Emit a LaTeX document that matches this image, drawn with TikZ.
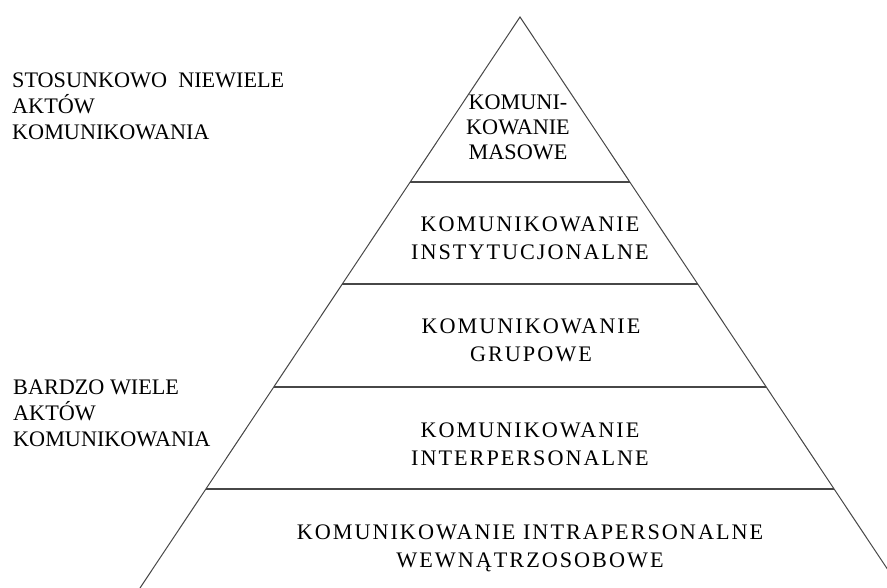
\documentclass[tikz,border=0pt]{standalone}
\usepackage{fontspec}
\setmainfont{Liberation Serif}
\newfontfamily\spacedserif[LetterSpace=9]{Liberation Serif}
\usetikzlibrary{calc}
\begin{document}
\begin{tikzpicture}[x=1pt,y=-1pt,
    side/.style={draw=black!72,line width=1pt},
    tier/.style={draw=black!72,line width=1.6pt},
    note/.style={inner sep=0pt,align=left,anchor=base west,
      font=\fontsize{22.2}{26}\selectfont},
    layer/.style={inner sep=0pt,align=center,anchor=base,
      font=\spacedserif\fontsize{22.2}{28}\selectfont},
    peak/.style={inner sep=0pt,align=center,anchor=base,
      font=\fontsize{22.2}{25}\selectfont}]
  \useasboundingbox (0,0) rectangle (887,588);
  \clip (0,0) rectangle (887,588);
  \fill[white] (0,0) rectangle (887,588);

  % pyramid outline
  \coordinate (apex) at (520,17);
  \coordinate (bl) at (140,588);
  \coordinate (br) at (900,588);
  \draw[side] (bl) -- (apex) -- (br);

  % tier boundaries on both sides
  \foreach \n/\t in {1/0.2890,2/0.4676,3/0.6480,4/0.8266}{
    \coordinate (l\n) at ($(apex)!\t!(bl)$);
    \coordinate (r\n) at ($(apex)!\t!(br)$);
  }
  \draw[tier] (l1) -- (r1);
  \draw[tier] (l2) -- (r2);
  \draw[tier] (l3) -- (r3);
  \draw[tier] (l4) -- (r4);

  % tier labels (anchored at the baseline of their last line)
  \node[peak] (masowe) at (518,160) {KOMUNI-\\KOWANIE\\MASOWE};
  \node[layer] (instyt) at (530,259.5) {KOMUNIKOWANIE\\INSTYTUCJONALNE};
  \node[layer] (grup) at (531,361.5) {KOMUNIKOWANIE\\GRUPOWE};
  \node[layer] (inter) at (530,465.5) {KOMUNIKOWANIE\\INTERPERSONALNE};
  \node[layer] (intra) at (530,567.5) {KOMUNIKOWANIE INTRAPERSONALNE\\WEWNĄTRZOSOBOWE};

  % side notes
  \node[note] (few) at (12,140) {STOSUNKOWO\ \ NIEWIELE\\AKTÓW\\KOMUNIKOWANIA};
  \node[note] (many) at (13,446) {BARDZO WIELE\\AKTÓW\\KOMUNIKOWANIA};
\end{tikzpicture}
\end{document}
